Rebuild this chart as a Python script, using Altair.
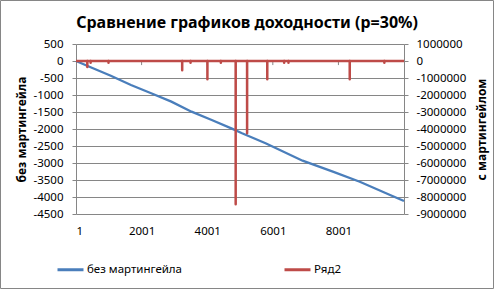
import altair as alt
import pandas as pd

# ---- data ----
blue_idx = [1, 447, 1062, 1677, 2292, 2908, 3523, 4139, 4754, 5063, 5780, 6908, 7831, 8652, 9576, 10000]
blue_val = [0, -185, -432, -706, -950, -1196, -1490, -1735, -1990, -2127, -2421, -2932, -3256, -3550, -3941, -4118]

spike_idx = [346, 447, 992, 3238, 3493, 4007, 4417, 4869, 5217, 5832, 6346, 6478, 8346, 9401]
spike_val = [-350000, -100000, -100000, -550000, -100000, -1080000, -100000, -8430000, -4250000,
             -1080000, -100000, -100000, -1080000, -100000]

x_ticks = [1, 2001, 4001, 6001, 8001]
left_ticks = list(range(-4500, 501, 500))
right_ticks = list(range(-9000000, 1000001, 1000000))

series_names = ["без мартингейла", "Ряд2"]
colors = ["#4A7EBB", "#BE4B48"]
title_text = "Сравнение графиков доходности (p=30%)"

# ---- tables ----
blue_df = pd.DataFrame({"x": blue_idx, "y": blue_val})
red_rows = [(1, 0)]
for i, v in zip(spike_idx, spike_val):
    red_rows += [(i - 1, 0), (i, v), (i + 1, 0)]
red_rows.append((10000, 0))
red_df = pd.DataFrame(red_rows, columns=["x", "y"])
tick_df = pd.DataFrame({"x": x_ticks[1:], "y": [0] * 4, "y2": [-120] * 4})

FONT = "Noto Sans"
W, H = 328, 170

xs = alt.Scale(domain=[1, 10000], nice=False, zero=False)
ys_left = alt.Scale(domain=[-4500, 500], nice=False, zero=False)
color = alt.Color("s:N", scale=alt.Scale(domain=series_names, range=colors),
                  legend=alt.Legend(orient="none", legendX=-20, legendY=211, direction="horizontal",
                                    columns=2, columnPadding=95, title=None, symbolType="stroke",
                                    symbolSize=676, symbolStrokeWidth=3, labelOffset=2,
                                    labelFont=FONT, labelFontSize=11.5, labelColor="#000",
                                    padding=0))

xaxis = alt.Axis(values=x_ticks, labelExpr="'' + datum.value", grid=False, domain=False, ticks=False,
                 tickCount=5, labelOverlap=False,
                 labelPadding=11, labelFont=FONT, labelFontSize=11.5, labelColor="#000", title=None)

blue = alt.Chart(blue_df).transform_calculate(s="'без мартингейла'").mark_line(
    strokeWidth=2.3).encode(
    x=alt.X("x:Q", scale=xs, axis=xaxis),
    y=alt.Y("y:Q", scale=ys_left,
            axis=alt.Axis(orient="left", values=left_ticks, labelExpr="'' + datum.value",
                          labelOverlap=False, tickCount=11,
                          grid=True, gridColor="#868686", gridWidth=1,
                          domainColor="#868686", tickColor="#868686", tickSize=4,
                          labelPadding=9, labelFont=FONT, labelFontSize=11.5, labelColor="#000",
                          title="без мартингейла", titleAngle=-90, titleX=-55, titleY=85,
                          titleAlign="center", titleBaseline="middle",
                          titleFont=FONT, titleFontSize=12, titleFontWeight="bold", titleColor="#000")),
    color=color,
)

ticks = alt.Chart(tick_df).mark_rule(color="#868686", strokeWidth=1).encode(
    x=alt.X("x:Q", scale=xs), y=alt.Y("y:Q", scale=ys_left), y2="y2:Q")

red = alt.Chart(red_df).transform_calculate(s="'Ряд2'").mark_line(
    strokeWidth=2.5, strokeJoin="round").encode(
    x=alt.X("x:Q", scale=xs),
    y=alt.Y("y:Q", scale=alt.Scale(domain=[-9000000, 1000000], nice=False, zero=False),
            axis=alt.Axis(orient="right", values=right_ticks, labelExpr="'' + datum.value",
                          labelOverlap=False, tickCount=11,
                          grid=False, domainColor="#868686", tickColor="#868686", tickSize=4,
                          labelPadding=8, labelFont=FONT, labelFontSize=11.5, labelColor="#000",
                          title="с мартингейлом", titleAngle=-90, titleX=77, titleY=85,
                          titleAlign="center", titleBaseline="middle",
                          titleFont=FONT, titleFontSize=12, titleFontWeight="bold", titleColor="#000")),
    color=color,
)

deco = alt.Chart(pd.DataFrame({"t": [title_text]}))
frame = deco.mark_rect(fill=None, stroke="#868686", strokeWidth=1).encode(
    x=alt.value(-75.5), x2=alt.value(417.5), y=alt.value(-43.5), y2=alt.value(244.5))
title = deco.mark_text(font=FONT, fontSize=16, fontWeight="bold", color="#000",
                       align="center", baseline="alphabetic").encode(
    x=alt.value(171), y=alt.value(-16), text="t:N")

chart = alt.layer(alt.layer(blue, ticks), red, frame, title).resolve_scale(y="independent").properties(
    width=W, height=H,
    autosize=alt.AutoSizeParams(type="none"),
    padding={"left": 76, "top": 44, "right": 90, "bottom": 75},
    background="white",
).configure_view(stroke=None)

chart.save("out.html", embed_options={"renderer": "svg", "actions": False})
